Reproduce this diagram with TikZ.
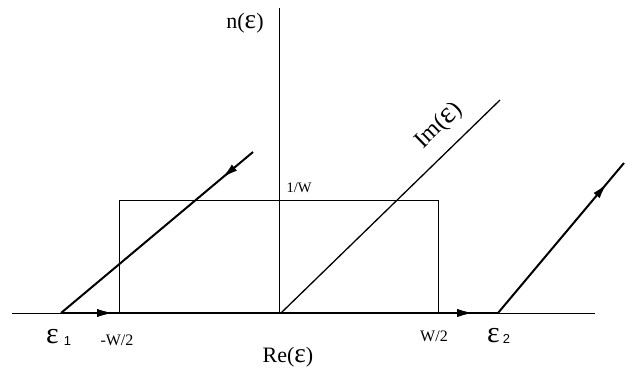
\documentclass[tikz,border=0pt]{standalone}
\usepackage{fontspec}
\setmainfont{Liberation Serif}
\setsansfont{Liberation Sans}
\usetikzlibrary{arrows.meta,decorations.markings}
\newcommand{\eps}{\scalebox{1.25}{ε}}
\begin{document}
\begin{tikzpicture}[x=1pt,y=-1pt,
  thinline/.style={line width=0.9pt},
  thickline/.style={line width=2pt},
  imline/.style={line width=1.3pt},
  midarrow/.style={postaction={decorate},decoration={markings,
     mark=at position #1 with {\arrow{Latex[length=16pt,width=8pt]}}}},
  lab/.style={inner sep=0pt},
  big/.style={font=\fontsize{22}{22}\selectfont},
  small/.style={font=\fontsize{16}{16}\selectfont}]
\useasboundingbox (0,0) rectangle (634,370);
% coordinates
\coordinate (xl) at (12,313);
\coordinate (xr) at (595,313);
\coordinate (o) at (279,313);
\coordinate (yt) at (279,8);
\coordinate (e1) at (61,313);
\coordinate (e2) at (498,313);
\coordinate (imtop) at (500,100);
\coordinate (imbot) at (281,313);
\coordinate (ltop) at (253,152);
\coordinate (rtop) at (624,163);
% axes
\draw[thinline] (xl) -- (xr);
\draw[thinline] (o) -- (yt);
% box
\draw[thinline] (119,313) rectangle (438,200);
% thick contour along the real axis
\draw[thickline,midarrow=0.119,midarrow=0.943] (e1) -- (e2);
% Im axis
\draw[imline] (imbot) -- (imtop);
% slanted contour legs
\draw[thickline,midarrow=0.161] (ltop) -- (e1);
\draw[thickline,midarrow=0.865] (e2) -- (rtop);
% labels
\node[lab,big] (n) at (245,23) {n(\eps)};
\node[lab,font=\fontsize{14.5}{14.5}\selectfont] (w1) at (299,188) {1/W};
\node[lab,font=\fontsize{24}{24}\selectfont,rotate=44.2] (im) at (439,126) {Im(\eps)};
\node[lab,big] (re) at (288,357) {Re(\eps)};
\node[lab,small] (mw) at (117,340) {-W/2};
\node[lab,small] (pw) at (434,336) {W/2};
\node[lab,font=\fontsize{30}{30}\selectfont,anchor=base west] (l1) at (46,343) {ε\hspace{5pt}\raisebox{-2pt}{\sffamily\fontsize{13}{13}\selectfont 1}};
\node[lab,font=\fontsize{30}{30}\selectfont,anchor=base west] (l2) at (487,342) {ε\hspace{3pt}\raisebox{-1pt}{\sffamily\fontsize{13}{13}\selectfont 2}};
\end{tikzpicture}
\end{document}
